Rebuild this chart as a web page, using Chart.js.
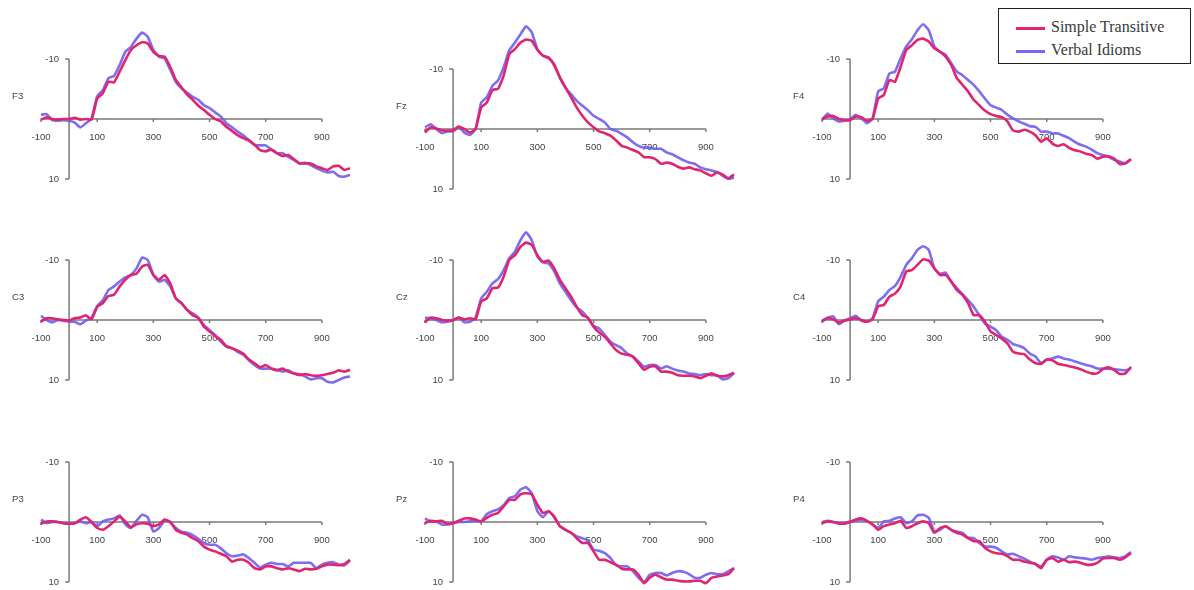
<!DOCTYPE html>
<html>
<head>
<meta charset="utf-8">
<script src="https://cdn.jsdelivr.net/npm/chart.js@4/dist/chart.umd.min.js"></script>
<style>
  body { margin: 0; background: #fff; }
  #wrap { position: relative; width: 1194px; height: 590px; overflow: hidden; }
  #wrap canvas { position: absolute; }
  #legend {
    position: absolute; left: 998px; top: 8px; width: 191px; height: 54px;
    border: 1px solid #222; background: #fff;
    font-family: "Liberation Serif", "Times New Roman", serif; font-size: 16px; color: #3a3a3a;
  }
  #legend div { position: absolute; left: 17px; height: 20px; line-height: 20px; }
  #legend span.sw { display: inline-block; width: 29px; height: 3px; vertical-align: middle; margin-right: 6px; }
</style>
</head>
<body>
<div id="wrap">
  <div id="legend">
    <div style="top:8px"><span class="sw" style="background:#e0246f"></span>Simple Transitive</div>
    <div style="top:31px"><span class="sw" style="background:#7a66f0"></span>Verbal Idioms</div>
  </div>
</div>
<script>
// time points (ms)
const times = [-100,-80,-60,-40,-20,0,20,40,60,80,100,120,140,160,180,200,220,240,260,280,300,320,340,360,380,400,420,440,460,480,500,520,540,560,580,600,620,640,660,680,700,720,740,760,780,800,820,840,860,880,900,920,940,960,980,1000];
const xTicks = [-100, 100, 300, 500, 700, 900];
const yTicks = [-10, 10];
const seriesNames = ['Simple Transitive', 'Verbal Idioms'];

// amplitudes (uV), negative plotted up
const f3Simple = [0.1,-0.3,0,0.1,0,0,-0.2,0.1,0,0.1,-3.4,-4.3,-6.2,-6.1,-7.9,-9.8,-11.5,-12.3,-12.8,-12.6,-11.2,-10.5,-10.4,-8.7,-6.5,-5.3,-4.1,-3.2,-2.2,-1.5,-0.7,0,0.4,1.3,2.0,2.7,3.2,3.6,4.3,5.2,5.4,5.1,5.7,6.2,6.0,6.7,7.4,7.4,7.4,7.9,8.2,8.5,7.9,7.8,8.5,8.2];
const f3Idioms = [-0.7,-0.8,0.2,0.3,0.2,0.3,0.6,1.4,0.7,-0.1,-3.8,-4.8,-6.8,-7.2,-9,-11.2,-12,-13.4,-14.4,-13.7,-11.5,-10.4,-10.1,-8.2,-6.2,-5.1,-4.4,-3.7,-3.2,-2.3,-1.8,-1.1,-0.4,0.7,1.4,2.1,2.7,3.5,4.3,4.4,4.4,5.1,5.7,5.7,6.3,6.8,7.4,7.3,7.7,8.2,8.6,8.9,8.8,9.5,9.6,9.3];
const fzSimple = [0.6,-0.3,-0.1,0.2,0.3,0.2,-0.4,0,0.6,0,-3.6,-4.4,-6.5,-6.7,-8.9,-12.5,-13.3,-14.4,-14.9,-14.7,-13.2,-12.2,-11.9,-10.6,-8.6,-6.9,-5.3,-3.6,-2.2,-1.1,-0.3,0.4,0.7,1.1,1.9,2.8,3.1,3.5,3.9,4.7,4.7,5,5.8,5.6,5.8,6.3,6.6,6.4,6.7,6.9,7.4,7.8,7.2,7.6,8.2,7.6];
const fzIdioms = [-0.3,-0.8,0,0.7,0.4,0.4,-0.3,0.6,1,0,-4.4,-5.3,-7.2,-8.1,-10.3,-13.1,-14.4,-15.8,-17.1,-16.1,-13.3,-12.2,-11.8,-10.8,-8.6,-6.9,-5.8,-4.7,-3.9,-3.1,-2.2,-1.7,-1.1,0,0.3,0.8,1.4,2.2,2.8,3.1,3.1,3.3,3.3,3.9,4.2,4.7,5.2,5.6,5.8,6.4,6.7,6.9,7.2,7.8,8.3,8.1];
const f4Simple = [0,-0.4,-0.5,0,0.2,0.2,-0.4,-0.3,0.3,0,-3.4,-4,-6.5,-6.2,-8.7,-11.5,-12.3,-13.2,-13.4,-12.9,-11.8,-11.2,-10.4,-9,-6.8,-5.7,-4.6,-3.2,-2.3,-1.4,-0.8,-0.5,-0.3,0.4,1.9,2.1,1.8,2.1,2.7,3.8,3.2,4.1,4.5,4.2,4.8,5.2,5.4,5.8,6,6.6,6.3,6.2,6.6,7.5,7.4,6.7];
const f4Idioms = [0.2,-0.9,-0.1,0.4,0.3,0,-0.7,-0.1,0.7,-0.1,-4.6,-5.1,-7.6,-7.9,-10.1,-12.1,-13.3,-14.8,-15.8,-14.8,-12.1,-11.2,-10.7,-9.3,-7.9,-7.3,-6.5,-5.7,-4.6,-3.4,-2.3,-1.9,-1.5,-0.7,-0.1,0.4,0.8,1.2,1.3,2.1,2.1,2.4,2.4,2.8,3.2,3.8,4.3,4.6,5.1,5.7,6,6.3,6.8,7.1,7.4,6.7];
const c3Simple = [0.3,-0.3,-0.3,-0.1,0,0.1,-0.3,-0.4,-0.8,-0.1,-2.2,-2.8,-4,-4.2,-5.6,-6.7,-7.5,-7.7,-8.9,-9.2,-7.5,-6.7,-7.5,-6.1,-3.6,-2.8,-1.7,-0.8,-0.3,1.1,1.9,2.7,3.3,4.4,4.7,5.1,5.6,6.6,7.2,7.9,7.5,8.1,8.4,8.1,8.6,8.9,9.2,9,9.2,9.3,9.2,9,8.8,8.4,8.6,8.3];
const c3Idioms = [-0.7,0,0.4,0,0.1,0.3,0.3,0.7,0.1,-0.4,-2.3,-3.3,-5,-5.6,-6.4,-7.1,-7.5,-8.6,-10.4,-10,-7.5,-6.4,-6.7,-5.6,-3.6,-2.8,-1.7,-1.1,-0.4,0.8,1.7,2.5,3.6,4.4,4.7,5.3,5.8,6.7,7.5,8.1,8.1,8.1,8.3,8.6,8.4,8.9,9,9.4,9.9,9.7,9.7,10.3,10.4,10,9.6,9.4];
const czSimple = [0.4,-0.4,-0.3,0,0.1,0,-0.4,-0.1,-0.3,-0.1,-3.1,-3.6,-5.3,-5.4,-7.2,-10,-10.8,-12.2,-12.9,-12.5,-10.8,-9.7,-9.9,-8.6,-6.7,-5.3,-3.9,-2.2,-0.8,-0.4,1.1,2.1,2.8,3.9,5,5.6,5.8,6.1,7.2,8.3,7.8,7.7,8.6,8.6,8.8,9.2,9.3,9.3,9.4,9.7,9.3,8.9,9.3,9.4,9.2,8.8];
const czIdioms = [-0.4,-0.3,0,0.4,0.3,0.1,-0.4,0.4,0.3,-0.4,-3.6,-4.7,-6.1,-6.8,-8.3,-10.3,-11.4,-13.3,-14.6,-13.3,-10.6,-9.6,-9.4,-8.1,-6.1,-4.7,-3.3,-2.1,-1.4,-0.3,1,1.4,2.5,3.6,4.2,4.7,5.6,6.1,6.9,7.8,7.5,7.5,8.1,7.7,8.1,8.4,8.6,8.9,9,9.2,9,9.2,9.2,9.9,9.7,8.9];
const c4Simple = [0.1,-0.3,-0.1,0.4,0.1,-0.1,-0.3,0,0.3,-0.1,-2.3,-2.5,-3.9,-4.4,-5.6,-8.1,-8.3,-9.2,-10.1,-9.9,-8.6,-7.5,-7.5,-6.4,-5,-4.2,-2.8,-0.8,-0.8,0.3,1.9,2.5,3.1,3.9,5.3,5.6,5.7,6.6,7.2,7.3,6.6,6.7,7.3,7.5,7.7,7.9,8.2,8.6,8.9,8.9,8.2,7.9,8.3,9,8.9,7.8];
const c4Idioms = [0.3,-0.4,-0.6,0.7,0.1,-0.3,-0.7,0.1,0.3,-0.3,-3.1,-3.9,-5,-5.7,-7.2,-9.2,-10.3,-11.7,-12.3,-11.7,-8.6,-7.7,-7.9,-6.4,-5.3,-4.3,-3.3,-2.2,-0.8,0.6,1.1,1.7,2.8,3.3,4,4.3,4.7,5.6,6.1,7.2,6.6,6.4,6.1,6.4,6.6,6.9,7.2,7.5,7.7,8.1,8.1,8.1,8.2,8.3,8.4,8.1];
const p3Simple = [0.3,-0.1,-0.1,0,0.2,0.3,0.2,-0.4,-0.8,0,1,1.3,0.7,-0.1,-0.9,-0.1,0.9,0.4,0.2,0.3,0.7,0.4,-0.4,0,1.3,1.8,2.1,2.7,3.2,4.1,4.6,4.9,5.3,5.7,6.6,6.3,6.3,6.8,7.7,7.9,7.4,7.4,7.7,7.9,7.7,7.9,8.2,7.8,7.9,7.8,7.4,7.1,7.1,7.2,7,6.3];
const p3Idioms = [-0.4,0.2,0,0,0.2,0.3,0.2,-0.1,0.2,0,0.7,-0.1,-0.4,-0.6,-1.1,0.4,1,-0.2,-1.2,-0.8,1.6,1,-0.2,0,1,1.6,1.8,2.2,2.8,3.5,3.8,3.8,4.4,5.2,5.7,5.6,5.4,6,6.8,7.6,7.1,6.8,7,7,7.4,6.8,6.8,6.8,6.8,7.7,7.1,6.8,6.7,7.1,7.2,6.4];
const pzSimple = [0.2,-0.2,-0.1,-0.2,0.3,0.2,-0.2,-0.6,-0.6,-0.4,-0.1,-0.7,-1.2,-1.5,-2.6,-3.7,-3.7,-4.6,-4.8,-4.6,-2.9,-1.5,-1.8,-0.9,0.7,1.3,1.8,2.7,3.5,3.5,4.9,6.3,6.3,6.7,7.1,7.8,7.9,7.9,8.8,10.2,9.3,8.8,9.2,9.6,9.6,9.8,9.9,9.9,9.8,9.8,10.2,9.3,9.1,8.9,8.7,7.7];
const pzIdioms = [-0.6,-0.1,-0.1,0.4,0.4,0.2,0,0,-0.1,-0.2,-0.1,-1.3,-1.8,-2.1,-2.8,-4,-4.3,-5.4,-5.8,-4.8,-1.8,-0.8,-1.8,-0.8,0.7,1.3,1.8,2.4,2.7,3.1,4.6,4.8,5.2,6,7.2,7.4,7.4,8.2,9.3,10,8.8,8.5,8.5,8.9,8.5,8.2,8.3,8.7,9.3,9.3,8.8,8.5,8.7,8.7,8.2,7.7];
const p4Simple = [0.2,-0.1,0,0.2,0.3,0,-0.4,-0.6,-0.2,0.4,1.3,0.7,0.4,0.2,-0.2,1,0.7,0.2,-0.1,0.2,1.8,1,0.7,1.3,1.8,2.1,2.7,3.2,3.2,4.3,4.9,5.2,5.3,5.7,6.3,6.3,6.6,6.8,7,7.7,6.3,6,6.6,6.3,6.7,6.6,6.8,7.1,7.1,6.8,6.1,6,6,6.3,5.9,5.2];
const p4Idioms = [0,-0.2,0,0.3,0.2,-0.1,-0.2,-0.4,-0.1,0.4,1,-0.1,-0.2,-0.6,-0.8,0.2,-0.1,-1.1,-1.2,-0.7,1.6,1.3,0.7,1.3,1.6,1.8,2.6,2.7,3.5,4.1,4.1,4.3,4.9,5.4,5.3,5.7,6.1,6.6,7,7.4,6.3,5.7,5.9,6.3,5.7,5.9,6,6.1,6.3,6,5.9,5.7,5.9,6,5.7,5];

const colors = ['#e0246f', 'rgba(112, 92, 240, 0.9)'];

// panel placement (left/top of the plotting area in page pixels)
const panels = [
  { name: 'F3', data: [f3Simple, f3Idioms], left: 41, top: 11 },
  { name: 'Fz', data: [fzSimple, fzIdioms], left: 425, top: 21 },
  { name: 'F4', data: [f4Simple, f4Idioms], left: 822, top: 11 },
  { name: 'C3', data: [c3Simple, c3Idioms], left: 41, top: 212 },
  { name: 'Cz', data: [czSimple, czIdioms], left: 425, top: 212 },
  { name: 'C4', data: [c4Simple, c4Idioms], left: 822, top: 212 },
  { name: 'P3', data: [p3Simple, p3Idioms], left: 41, top: 414 },
  { name: 'Pz', data: [pzSimple, pzIdioms], left: 425, top: 414 },
  { name: 'P4', data: [p4Simple, p4Idioms], left: 822, top: 414 }
];

const PAD = { left: 41, top: 11, right: 10, bottom: 8 };
const AREA_W = 309, AREA_H = 168;

const axesPlugin = {
  id: 'erpAxes',
  beforeDatasetsDraw(chart, args, opts) {
    const ctx = chart.ctx;
    const xs = chart.scales.x, ys = chart.scales.y;
    const x0 = xs.getPixelForValue(0);
    const y0 = ys.getPixelForValue(0);
    ctx.save();
    ctx.strokeStyle = '#7a7a7a';
    ctx.lineWidth = 1.5;
    // horizontal axis through 0 uV
    ctx.beginPath();
    ctx.moveTo(xs.getPixelForValue(xTicks[0]), y0);
    ctx.lineTo(xs.getPixelForValue(xTicks[xTicks.length - 1]), y0);
    xTicks.forEach(t => {
      const px = xs.getPixelForValue(t);
      ctx.moveTo(px, y0);
      ctx.lineTo(px, y0 + 3);
    });
    // vertical axis through 0 ms
    ctx.moveTo(x0, ys.getPixelForValue(yTicks[0]));
    ctx.lineTo(x0, ys.getPixelForValue(yTicks[yTicks.length - 1]));
    yTicks.forEach(v => {
      const py = ys.getPixelForValue(v);
      ctx.moveTo(x0, py);
      ctx.lineTo(x0 - 4, py);
    });
    ctx.stroke();

    ctx.fillStyle = '#444';
    ctx.font = '9.5px "Liberation Sans", Arial, sans-serif';
    ctx.textAlign = 'center';
    ctx.textBaseline = 'middle';
    xTicks.forEach(t => ctx.fillText(String(t), xs.getPixelForValue(t), y0 + 18));
    ctx.textAlign = 'right';
    yTicks.forEach(v => ctx.fillText(String(v), x0 - 10, ys.getPixelForValue(v)));
    ctx.textAlign = 'left';
    ctx.fillText(opts.label, x0 - 57, ys.getPixelForValue(-3.7));
    ctx.restore();
  }
};

const wrap = document.getElementById('wrap');

panels.forEach(p => {
  const canvas = document.createElement('canvas');
  const w = PAD.left + AREA_W + PAD.right;
  const h = PAD.top + AREA_H + PAD.bottom;
  canvas.width = w;
  canvas.height = h;
  canvas.style.left = (p.left - PAD.left) + 'px';
  canvas.style.top = (p.top - PAD.top) + 'px';
  canvas.style.width = w + 'px';
  canvas.style.height = h + 'px';
  wrap.insertBefore(canvas, document.getElementById('legend'));

  new Chart(canvas.getContext('2d'), {
    type: 'line',
    data: {
      datasets: p.data.map((vals, i) => ({
        label: seriesNames[i],
        data: times.map((t, j) => ({ x: t, y: vals[j] })),
        borderColor: colors[i],
        borderWidth: 2.6,
        pointRadius: 0,
        tension: 0.15,
        fill: false,
        clip: false
      }))
    },
    options: {
      responsive: false,
      animation: false,
      devicePixelRatio: 1,
      layout: { padding: PAD },
      scales: {
        x: { type: 'linear', min: -100, max: 1000, display: false },
        y: { type: 'linear', min: -18, max: 10, reverse: true, display: false }
      },
      plugins: {
        legend: { display: false },
        tooltip: { enabled: false },
        erpAxes: { label: p.name }
      }
    },
    plugins: [axesPlugin]
  });
});
</script>
</body>
</html>
